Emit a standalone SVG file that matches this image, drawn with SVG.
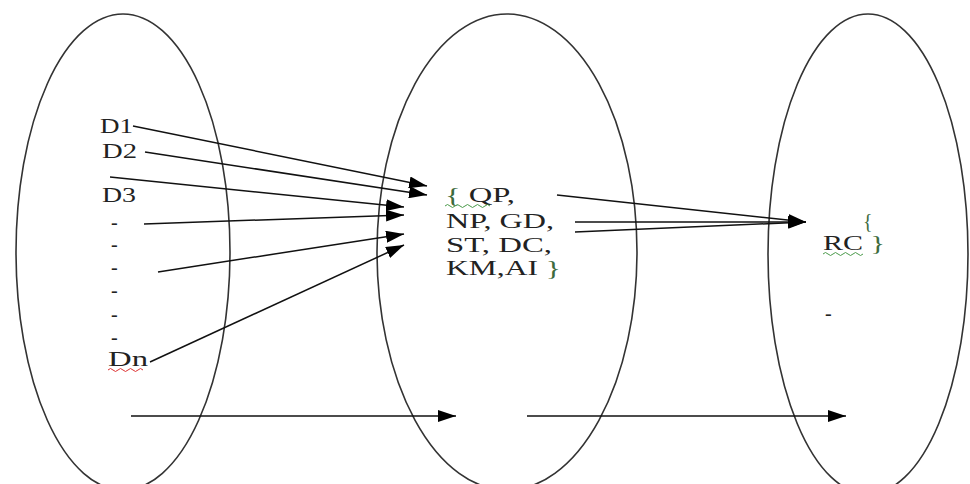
<svg xmlns="http://www.w3.org/2000/svg" width="970" height="484" viewBox="0 0 970 484">
<style>
.ell{fill:none;stroke:#333;stroke-width:1.6}
.ln{fill:none;stroke:#111;stroke-width:1.5;marker-end:url(#ah)}
.t{font-family:"Liberation Serif","Times New Roman",serif;font-size:20px;fill:#222}
.br{fill:#3d6b3d}
.sq{fill:none;stroke-width:1}
</style>
<defs>
<marker id="ah" markerUnits="userSpaceOnUse" markerWidth="18" markerHeight="12" refX="18" refY="6" orient="auto">
<path d="M0,0 L18,6 L0,12 z" fill="#000"/>
</marker>
</defs>
<g id="set-left">
<ellipse class="ell" cx="123" cy="252" rx="107" ry="238"/>
<text class="t" x="100" y="133" font-size="19" textLength="33" lengthAdjust="spacingAndGlyphs">D1</text>
<text class="t" x="102" y="158" font-size="19" textLength="35" lengthAdjust="spacingAndGlyphs">D2</text>
<text class="t" x="102" y="202" font-size="19" textLength="34" lengthAdjust="spacingAndGlyphs">D3</text>
<text class="t" x="111" y="229" font-size="15">-</text>
<text class="t" x="111" y="251" font-size="15">-</text>
<text class="t" x="111" y="274" font-size="15">-</text>
<text class="t" x="111" y="297" font-size="15">-</text>
<text class="t" x="111" y="321" font-size="15">-</text>
<text class="t" x="111" y="344" font-size="15">-</text>
<text class="t" x="108" y="366" font-size="19" textLength="40" lengthAdjust="spacingAndGlyphs">Dn</text>
<path class="sq" stroke="#d33" d="M108,370 q2.5,-3 5,0 t5,0 t5,0 t5,0 t5,0 t5,0 t5,0"/>
</g>
<g id="set-middle">
<ellipse class="ell" cx="507" cy="252" rx="130" ry="238"/>
<text class="t" x="445" y="202" textLength="70" lengthAdjust="spacingAndGlyphs"><tspan class="br">{</tspan> QP,</text>
<path class="sq" stroke="#4a9a4a" d="M445,206 q2.5,-3 5,0 t5,0 t5,0 t5,0 t5,0 t5,0 t5,0 t5,0 t5,0"/>
<text class="t" x="446" y="228" textLength="108" lengthAdjust="spacingAndGlyphs">NP, GD,</text>
<text class="t" x="446" y="252" textLength="106" lengthAdjust="spacingAndGlyphs">ST, DC,</text>
<text class="t" x="446" y="275" textLength="115" lengthAdjust="spacingAndGlyphs">KM,AI <tspan class="br">}</tspan></text>
</g>
<g id="set-right">
<ellipse class="ell" cx="868" cy="254" rx="100" ry="240"/>
<text class="t br" x="863" y="228" font-size="16">{</text>
<text class="t" x="823" y="250" textLength="62" lengthAdjust="spacingAndGlyphs">RC <tspan class="br">}</tspan></text>
<path class="sq" stroke="#4a9a4a" d="M823,254 q2.5,-3 5,0 t5,0 t5,0 t5,0 t5,0 t5,0 t5,0 t5,0"/>
<text class="t" x="825" y="320" font-size="14">-</text>
</g>
<g id="connectors">
<line class="ln" x1="133" y1="126" x2="427" y2="186"/>
<line class="ln" x1="145" y1="152" x2="427" y2="195"/>
<line class="ln" x1="110" y1="177" x2="404" y2="207"/>
<line class="ln" x1="144" y1="224" x2="404" y2="215"/>
<line class="ln" x1="158" y1="272" x2="404" y2="234"/>
<line class="ln" x1="150" y1="362" x2="404" y2="245"/>
<line class="ln" x1="557" y1="195" x2="806" y2="222"/>
<line class="ln" x1="575" y1="222" x2="806" y2="222"/>
<line class="ln" x1="575" y1="232" x2="806" y2="222"/>
<line class="ln" x1="131" y1="416" x2="456" y2="416"/>
<line class="ln" x1="527" y1="416" x2="846" y2="416"/>
</g>
</svg>
